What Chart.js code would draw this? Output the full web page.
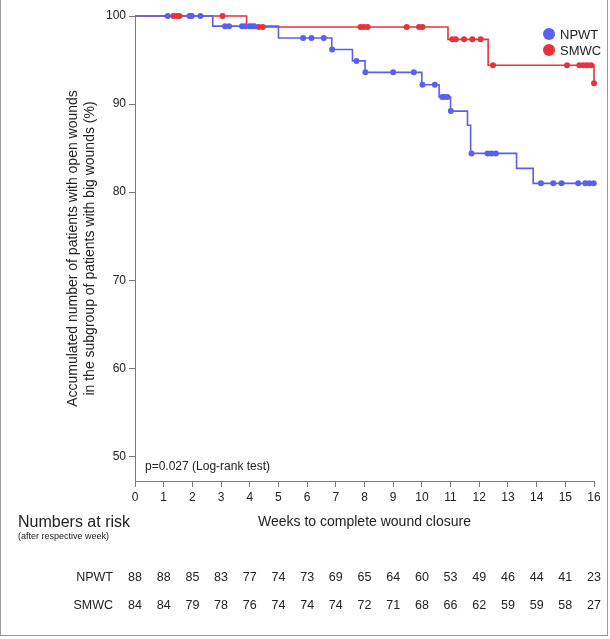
<!DOCTYPE html>
<html>
<head>
<meta charset="utf-8">
<script src="https://cdn.jsdelivr.net/npm/chart.js@4"></script>
<style>
  html, body { margin: 0; padding: 0; background: #fff; }
  #wrap { position: relative; width: 610px; height: 639px; }
  #frame { position: absolute; left: 0; top: -2px; width: 608px; height: 638px; border: 1px solid #9a9a9a; box-sizing: border-box; pointer-events: none; }
</style>
</head>
<body>
<div id="wrap">
  <canvas id="chartContainer" width="610" height="639"></canvas>
  <div id="frame"></div>
</div>
<script>
// weeks on the x axis and numbers at risk
var weeks = [0, 1, 2, 3, 4, 5, 6, 7, 8, 9, 10, 11, 12, 13, 14, 15, 16];
var riskNPWT = [88, 88, 85, 83, 77, 74, 73, 69, 65, 64, 60, 53, 49, 46, 44, 41, 23];
var riskSMWC = [84, 84, 79, 78, 76, 74, 74, 74, 72, 71, 68, 66, 62, 59, 59, 58, 27];
var yTicks = [50, 60, 70, 80, 90, 100];

// Kaplan-Meier steps (time in weeks, % with open wounds)
var npwtTimes = [0, 2.71, 5.0, 6.86, 7.58, 8.02, 10.0, 10.6, 11.0, 11.59, 11.7, 13.3, 13.88, 16.0];
var npwtSurv  = [100, 98.85, 97.5, 96.2, 94.9, 93.6, 92.2, 90.8, 89.2, 87.6, 84.4, 82.7, 81.0, 81.0];
var smwcTimes = [0, 3.89, 10.91, 12.31, 16.0];
var smwcSurv  = [100, 98.75, 97.35, 94.4, 92.35];

// censored observations
var npwtCensor = [1.14, 1.9, 1.98, 2.28, 3.14, 3.28, 3.73, 3.84, 3.99, 4.08, 4.16, 5.86, 6.15, 6.58, 6.87,
                  7.72, 8.03, 9.0, 9.72, 10.02, 10.45, 10.71, 10.79, 10.89, 11.01, 11.73, 12.29, 12.43, 12.58,
                  14.15, 14.58, 14.87, 15.45, 15.7, 15.84, 15.99];
var smwcCensor = [1.34, 1.46, 1.55, 1.94, 3.05, 4.31, 4.45, 7.86, 7.98, 8.11, 9.47, 9.9, 10.02, 11.06, 11.18,
                  11.47, 11.76, 12.05, 12.48, 15.06, 15.49, 15.63, 15.76, 15.9, 16.0];

var blue = '#5b5fee';
var red = '#e8323a';

function steps(times, surv) {
  return times.map(function (t, i) { return { x: t, y: surv[i] }; });
}
function censorPoints(cens, times, surv) {
  return cens.map(function (t) {
    var v = surv[0];
    for (var i = 0; i < times.length; i++) { if (t >= times[i]) v = surv[i]; }
    return { x: t, y: v };
  });
}

Chart.defaults.font.family = '"Liberation Sans", Arial, sans-serif';
Chart.defaults.color = '#222';

var extras = {
  id: 'extras',
  afterDraw: function (chart) {
    var ctx = chart.ctx;
    var xs = chart.scales.x;
    ctx.save();
    ctx.fillStyle = '#222';
    ctx.textBaseline = 'middle';

    // p-value
    ctx.font = '12px "Liberation Sans", Arial, sans-serif';
    ctx.textAlign = 'left';
    ctx.fillText('p=0.027 (Log-rank test)', 145, 467);

    // legend
    var leg = [['NPWT', blue], ['SMWC', red]];
    ctx.font = '13px "Liberation Sans", Arial, sans-serif';
    leg.forEach(function (l, i) {
      var y = 34 + i * 16;
      ctx.beginPath();
      ctx.fillStyle = l[1];
      ctx.arc(549, y, 6, 0, Math.PI * 2);
      ctx.fill();
      ctx.fillStyle = '#222';
      ctx.fillText(l[0], 560, y + 1);
    });

    // numbers at risk
    ctx.font = '16px "Liberation Sans", Arial, sans-serif';
    ctx.fillText('Numbers at risk', 18, 523);
    ctx.font = '9px "Liberation Sans", Arial, sans-serif';
    ctx.fillText('(after respective week)', 18, 537);

    ctx.font = '12.5px "Liberation Sans", Arial, sans-serif';
    ctx.textAlign = 'right';
    ctx.fillText('NPWT', 113, 578);
    ctx.fillText('SMWC', 113, 606);
    ctx.textAlign = 'center';
    weeks.forEach(function (w, i) {
      var x = xs.getPixelForValue(w);
      ctx.fillText(String(riskNPWT[i]), x, 578);
      ctx.fillText(String(riskSMWC[i]), x, 606);
    });
    ctx.restore();
  }
};

var ctx = document.getElementById('chartContainer').getContext('2d');
var chart = new Chart(ctx, {
  type: 'line',
  data: {
    datasets: [
      {
        label: 'NPWT censored', data: censorPoints(npwtCensor, npwtTimes, npwtSurv),
        showLine: false, pointRadius: 3, pointBackgroundColor: blue, pointBorderWidth: 0, clip: false, order: 1
      },
      {
        label: 'SMWC censored', data: censorPoints(smwcCensor, smwcTimes, smwcSurv),
        showLine: false, pointRadius: 3, pointBackgroundColor: red, pointBorderWidth: 0, clip: false, order: 2
      },
      {
        label: 'NPWT', data: steps(npwtTimes, npwtSurv), stepped: 'before',
        borderColor: blue, borderWidth: 1.6, pointRadius: 0, fill: false, clip: false, order: 3
      },
      {
        label: 'SMWC', data: steps(smwcTimes, smwcSurv), stepped: 'before',
        borderColor: red, borderWidth: 1.6, pointRadius: 0, fill: false, clip: false, order: 4
      }
    ]
  },
  options: {
    responsive: false,
    animation: false,
    layout: { padding: { left: 0, top: 16, right: 16, bottom: 0 } },
    plugins: { legend: { display: false }, tooltip: { enabled: false } },
    scales: {
      x: {
        type: 'linear', min: 0, max: 16,
        afterBuildTicks: function (s) { s.ticks = weeks.map(function (w) { return { value: w }; }); },
        ticks: { font: { size: 12 }, padding: 3, maxRotation: 0, autoSkip: false },
        grid: { drawOnChartArea: false, tickLength: 6, color: '#7a7a7a', lineWidth: 1 },
        border: { color: '#7a7a7a', width: 1 },
        title: {
          display: true, text: 'Weeks to complete wound closure',
          font: { size: 14 }, padding: { top: 0, bottom: 108 }
        },
        afterFit: function (s) { s.height = 158; }
      },
      y: {
        type: 'linear', min: 47.2, max: 100,
        afterBuildTicks: function (s) { s.ticks = yTicks.map(function (v) { return { value: v }; }); },
        ticks: { font: { size: 12 }, padding: 3 },
        grid: { drawOnChartArea: false, tickLength: 6, color: '#7a7a7a', lineWidth: 1 },
        border: { color: '#7a7a7a', width: 1 },
        title: {
          display: true,
          text: ['Accumulated number of patients with open wounds', 'in the subgroup of patients with big wounds (%)'],
          font: { size: 14, lineHeight: 1.25 }, padding: { top: 64, bottom: 0 }
        },
        afterFit: function (s) { s.width = 135; }
      }
    }
  },
  plugins: [extras]
});
</script>
</body>
</html>
